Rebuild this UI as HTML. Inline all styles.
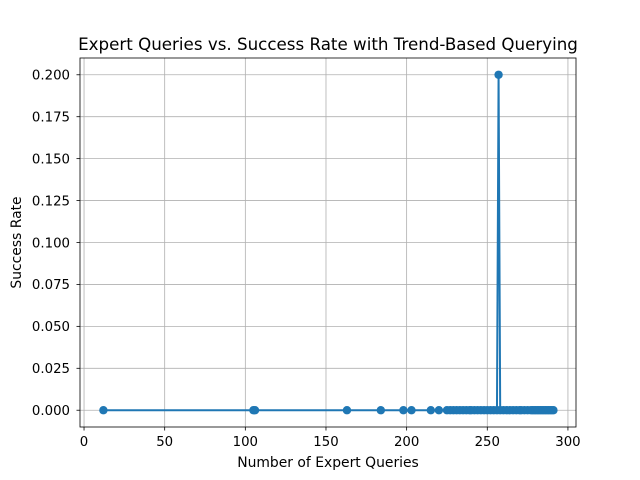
<!DOCTYPE html>
<html><head><meta charset="utf-8"><style>
body{margin:0;background:#fff;}
svg{display:block;font-family:"DejaVu Sans","Liberation Sans",sans-serif;}
</style></head><body>
<svg id="chart" width="640" height="480"></svg>
<script>
const xValues=[12,105,106,163,184,198,203,215,220,225,227,229,231,233,235,237,239,240,242,244,246,248,250,252,254,256,257,258,260,262,264,266,268,270,271,273,275,277,278,279,280,281,282,283,284,285,286,287,288,289,290,291];
const yValues=[0,0,0,0,0,0,0,0,0,0,0,0,0,0,0,0,0,0,0,0,0,0,0,0,0,0,0.2,0,0,0,0,0,0,0,0,0,0,0,0,0,0,0,0,0,0,0,0,0,0,0,0,0];
const xTicks=[0,50,100,150,200,250,300];
const yTicks=[0,0.025,0.05,0.075,0.1,0.125,0.15,0.175,0.2];
const yTickLabels=["0.000","0.025","0.050","0.075","0.100","0.125","0.150","0.175","0.200"];
const L=80,R=576,T=58,B=427;
const xmin=-2.5,xmax=305,ymin=-0.01,ymax=0.21;
const sx=v=>L+(v-xmin)/(xmax-xmin)*(R-L);
const sy=v=>B-(v-ymin)/(ymax-ymin)*(B-T);
const svg=document.getElementById('chart');
const NS='http://www.w3.org/2000/svg';
function mk(tag,attrs,parent){const e=document.createElementNS(NS,tag);for(const k in attrs)e.setAttribute(k,attrs[k]);(parent||svg).appendChild(e);return e;}
xTicks.forEach(t=>{const g=mk('line',{x1:sx(t),x2:sx(t),y1:T,y2:B,stroke:'#b0b0b0','stroke-width':0.8});


mk('line',{x1:sx(t),x2:sx(t),y1:B,y2:B+3.5,stroke:'#000','stroke-width':0.8});
const tx=mk('text',{x:sx(t),y:B+19,'text-anchor':'middle','font-size':13.3});tx.textContent=t;

});
yTicks.forEach((t,i)=>{const g=mk('line',{x1:L,x2:R,y1:sy(t),y2:sy(t),stroke:'#b0b0b0','stroke-width':0.8});


mk('line',{x1:L-3.5,x2:L,y1:sy(t),y2:sy(t),stroke:'#000','stroke-width':0.8});
const tx=mk('text',{x:L-10,y:sy(t)+4.8,'text-anchor':'end','font-size':13.3});tx.textContent=yTickLabels[i];

});
const pts=xValues.map((x,i)=>sx(x)+','+sy(yValues[i])).join(' ');
const pl=mk('polyline',{points:pts,fill:'none',stroke:'#1f77b4','stroke-width':2});


xValues.forEach((x,i)=>{const c=mk('circle',{cx:sx(x),cy:sy(yValues[i]),r:4.2,fill:'#1f77b4'});

});
const fr=mk('rect',{x:L,y:T,width:R-L,height:B-T,fill:'none',stroke:'#000','stroke-width':0.8});


const ti=mk('text',{x:(L+R)/2,y:50,'text-anchor':'middle','font-size':16.7});ti.textContent='Expert Queries vs. Success Rate with Trend-Based Querying';


const xl=mk('text',{x:(L+R)/2,y:467,'text-anchor':'middle','font-size':13.9});xl.textContent='Number of Expert Queries';


const yl=mk('text',{x:21,y:(T+B)/2,'text-anchor':'middle','font-size':13.9,transform:'rotate(-90 21 '+((T+B)/2)+')'});yl.textContent='Success Rate';


</script>
</body></html>
